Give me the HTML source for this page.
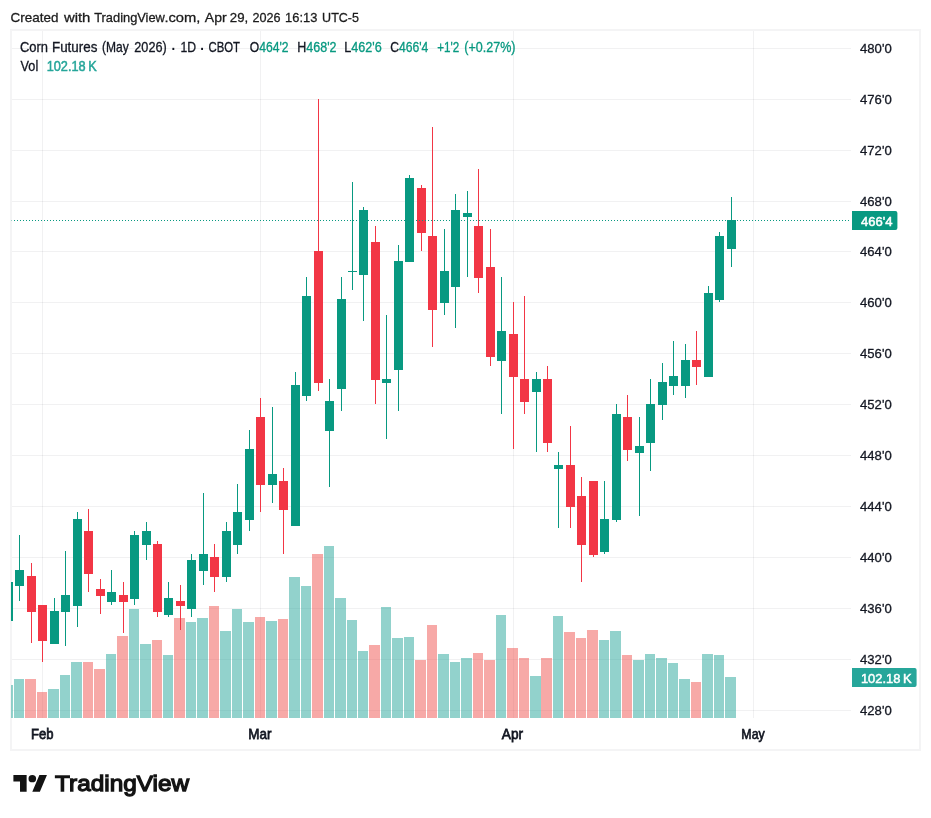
<!DOCTYPE html>
<html lang="en"><head><meta charset="utf-8"><title>Corn Futures (May 2026) chart</title>
<style>html,body{margin:0;padding:0;background:#fff}body{width:931px;height:818px;overflow:hidden;position:relative}svg{position:absolute;left:0;top:0;display:block}text{font-family:"Liberation Sans",sans-serif;white-space:pre}</style></head><body>
<svg width="931" height="818" viewBox="0 0 931 818">
<rect x="11" y="30" width="909" height="720" fill="none" stroke="#f4f4f5" stroke-width="2"/>
<g shape-rendering="crispEdges">
<g fill="rgba(42,46,57,0.065)">
<rect x="42" y="31" width="1" height="687"/>
<rect x="260" y="31" width="1" height="687"/>
<rect x="513" y="31" width="1" height="687"/>
<rect x="753" y="31" width="1" height="687"/>
<rect x="12" y="48" width="839" height="1"/>
<rect x="12" y="99" width="839" height="1"/>
<rect x="12" y="150" width="839" height="1"/>
<rect x="12" y="201" width="839" height="1"/>
<rect x="12" y="251" width="839" height="1"/>
<rect x="12" y="302" width="839" height="1"/>
<rect x="12" y="353" width="839" height="1"/>
<rect x="12" y="404" width="839" height="1"/>
<rect x="12" y="455" width="839" height="1"/>
<rect x="12" y="506" width="839" height="1"/>
<rect x="12" y="557" width="839" height="1"/>
<rect x="12" y="608" width="839" height="1"/>
<rect x="12" y="659" width="839" height="1"/>
<rect x="12" y="710" width="839" height="1"/>
</g>
<clipPath id="pane"><rect x="11" y="31" width="840" height="687"/></clipPath>
<g clip-path="url(#pane)">
<rect x="2" y="685" width="11" height="33" fill="rgba(38,166,154,0.5)"/>
<rect x="14" y="679" width="10" height="39" fill="rgba(38,166,154,0.5)"/>
<rect x="25" y="679" width="11" height="39" fill="rgba(239,83,80,0.5)"/>
<rect x="37" y="692" width="10" height="26" fill="rgba(239,83,80,0.5)"/>
<rect x="48" y="689" width="11" height="29" fill="rgba(38,166,154,0.5)"/>
<rect x="60" y="675" width="10" height="43" fill="rgba(38,166,154,0.5)"/>
<rect x="71" y="662" width="11" height="56" fill="rgba(38,166,154,0.5)"/>
<rect x="83" y="662" width="10" height="56" fill="rgba(239,83,80,0.5)"/>
<rect x="94" y="669" width="11" height="49" fill="rgba(239,83,80,0.5)"/>
<rect x="106" y="654" width="10" height="64" fill="rgba(38,166,154,0.5)"/>
<rect x="117" y="636" width="11" height="82" fill="rgba(239,83,80,0.5)"/>
<rect x="129" y="609" width="10" height="109" fill="rgba(38,166,154,0.5)"/>
<rect x="140" y="644" width="11" height="74" fill="rgba(38,166,154,0.5)"/>
<rect x="152" y="640" width="10" height="78" fill="rgba(239,83,80,0.5)"/>
<rect x="163" y="655" width="10" height="63" fill="rgba(38,166,154,0.5)"/>
<rect x="174" y="618" width="11" height="100" fill="rgba(239,83,80,0.5)"/>
<rect x="186" y="622" width="10" height="96" fill="rgba(38,166,154,0.5)"/>
<rect x="197" y="618" width="11" height="100" fill="rgba(38,166,154,0.5)"/>
<rect x="209" y="606" width="10" height="112" fill="rgba(239,83,80,0.5)"/>
<rect x="220" y="631" width="11" height="87" fill="rgba(38,166,154,0.5)"/>
<rect x="232" y="609" width="10" height="109" fill="rgba(38,166,154,0.5)"/>
<rect x="243" y="622" width="11" height="96" fill="rgba(38,166,154,0.5)"/>
<rect x="255" y="617" width="10" height="101" fill="rgba(239,83,80,0.5)"/>
<rect x="266" y="621" width="11" height="97" fill="rgba(38,166,154,0.5)"/>
<rect x="278" y="619" width="10" height="99" fill="rgba(239,83,80,0.5)"/>
<rect x="289" y="577" width="11" height="141" fill="rgba(38,166,154,0.5)"/>
<rect x="301" y="586" width="10" height="132" fill="rgba(38,166,154,0.5)"/>
<rect x="312" y="554" width="11" height="164" fill="rgba(239,83,80,0.5)"/>
<rect x="324" y="546" width="10" height="172" fill="rgba(38,166,154,0.5)"/>
<rect x="335" y="598" width="11" height="120" fill="rgba(38,166,154,0.5)"/>
<rect x="347" y="620" width="10" height="98" fill="rgba(38,166,154,0.5)"/>
<rect x="358" y="651" width="10" height="67" fill="rgba(38,166,154,0.5)"/>
<rect x="369" y="645" width="11" height="73" fill="rgba(239,83,80,0.5)"/>
<rect x="381" y="607" width="10" height="111" fill="rgba(38,166,154,0.5)"/>
<rect x="392" y="638" width="11" height="80" fill="rgba(38,166,154,0.5)"/>
<rect x="404" y="637" width="10" height="81" fill="rgba(38,166,154,0.5)"/>
<rect x="415" y="660" width="11" height="58" fill="rgba(239,83,80,0.5)"/>
<rect x="427" y="625" width="10" height="93" fill="rgba(239,83,80,0.5)"/>
<rect x="438" y="654" width="11" height="64" fill="rgba(38,166,154,0.5)"/>
<rect x="450" y="662" width="10" height="56" fill="rgba(38,166,154,0.5)"/>
<rect x="461" y="658" width="11" height="60" fill="rgba(38,166,154,0.5)"/>
<rect x="473" y="653" width="10" height="65" fill="rgba(239,83,80,0.5)"/>
<rect x="484" y="660" width="11" height="58" fill="rgba(239,83,80,0.5)"/>
<rect x="496" y="615" width="10" height="103" fill="rgba(38,166,154,0.5)"/>
<rect x="507" y="648" width="11" height="70" fill="rgba(239,83,80,0.5)"/>
<rect x="519" y="658" width="10" height="60" fill="rgba(239,83,80,0.5)"/>
<rect x="530" y="676" width="11" height="42" fill="rgba(38,166,154,0.5)"/>
<rect x="541" y="658" width="11" height="60" fill="rgba(239,83,80,0.5)"/>
<rect x="553" y="616" width="10" height="102" fill="rgba(38,166,154,0.5)"/>
<rect x="564" y="632" width="11" height="86" fill="rgba(239,83,80,0.5)"/>
<rect x="576" y="638" width="10" height="80" fill="rgba(239,83,80,0.5)"/>
<rect x="587" y="630" width="11" height="88" fill="rgba(239,83,80,0.5)"/>
<rect x="599" y="640" width="10" height="78" fill="rgba(38,166,154,0.5)"/>
<rect x="610" y="631" width="11" height="87" fill="rgba(38,166,154,0.5)"/>
<rect x="622" y="655" width="10" height="63" fill="rgba(239,83,80,0.5)"/>
<rect x="633" y="660" width="11" height="58" fill="rgba(38,166,154,0.5)"/>
<rect x="645" y="654" width="10" height="64" fill="rgba(38,166,154,0.5)"/>
<rect x="656" y="658" width="11" height="60" fill="rgba(38,166,154,0.5)"/>
<rect x="668" y="663" width="10" height="55" fill="rgba(38,166,154,0.5)"/>
<rect x="679" y="679" width="11" height="39" fill="rgba(38,166,154,0.5)"/>
<rect x="691" y="682" width="10" height="36" fill="rgba(239,83,80,0.5)"/>
<rect x="702" y="654" width="11" height="64" fill="rgba(38,166,154,0.5)"/>
<rect x="714" y="655" width="10" height="63" fill="rgba(38,166,154,0.5)"/>
<rect x="725" y="677" width="11" height="41" fill="rgba(38,166,154,0.5)"/>
<rect x="8" y="582" width="1" height="39" fill="#089981"/>
<rect x="4" y="582" width="9" height="39" fill="#089981"/>
<rect x="19" y="535" width="1" height="66" fill="#089981"/>
<rect x="15" y="570" width="9" height="16" fill="#089981"/>
<rect x="31" y="563" width="1" height="80" fill="#f23645"/>
<rect x="27" y="576" width="9" height="36" fill="#f23645"/>
<rect x="42" y="605" width="1" height="57" fill="#f23645"/>
<rect x="38" y="605" width="9" height="36" fill="#f23645"/>
<rect x="54" y="598" width="1" height="46" fill="#089981"/>
<rect x="50" y="611" width="9" height="33" fill="#089981"/>
<rect x="65" y="551" width="1" height="95" fill="#089981"/>
<rect x="61" y="595" width="9" height="17" fill="#089981"/>
<rect x="77" y="512" width="1" height="115" fill="#089981"/>
<rect x="73" y="519" width="9" height="87" fill="#089981"/>
<rect x="88" y="509" width="1" height="83" fill="#f23645"/>
<rect x="84" y="531" width="9" height="43" fill="#f23645"/>
<rect x="100" y="579" width="1" height="35" fill="#f23645"/>
<rect x="96" y="589" width="9" height="7" fill="#f23645"/>
<rect x="111" y="570" width="1" height="35" fill="#089981"/>
<rect x="107" y="592" width="9" height="10" fill="#089981"/>
<rect x="123" y="582" width="1" height="51" fill="#f23645"/>
<rect x="119" y="595" width="9" height="7" fill="#f23645"/>
<rect x="134" y="531" width="1" height="74" fill="#089981"/>
<rect x="130" y="535" width="9" height="64" fill="#089981"/>
<rect x="146" y="522" width="1" height="38" fill="#089981"/>
<rect x="142" y="531" width="9" height="14" fill="#089981"/>
<rect x="157" y="541" width="1" height="76" fill="#f23645"/>
<rect x="153" y="544" width="9" height="68" fill="#f23645"/>
<rect x="168" y="582" width="1" height="35" fill="#089981"/>
<rect x="164" y="598" width="9" height="17" fill="#089981"/>
<rect x="180" y="585" width="1" height="45" fill="#f23645"/>
<rect x="176" y="601" width="9" height="5" fill="#f23645"/>
<rect x="191" y="554" width="1" height="63" fill="#089981"/>
<rect x="187" y="560" width="9" height="49" fill="#089981"/>
<rect x="203" y="493" width="1" height="92" fill="#089981"/>
<rect x="199" y="554" width="9" height="17" fill="#089981"/>
<rect x="214" y="544" width="1" height="48" fill="#f23645"/>
<rect x="210" y="557" width="9" height="20" fill="#f23645"/>
<rect x="226" y="522" width="1" height="60" fill="#089981"/>
<rect x="222" y="531" width="9" height="46" fill="#089981"/>
<rect x="237" y="484" width="1" height="70" fill="#089981"/>
<rect x="233" y="512" width="9" height="33" fill="#089981"/>
<rect x="249" y="430" width="1" height="101" fill="#089981"/>
<rect x="245" y="449" width="9" height="71" fill="#089981"/>
<rect x="260" y="398" width="1" height="114" fill="#f23645"/>
<rect x="256" y="417" width="9" height="68" fill="#f23645"/>
<rect x="272" y="407" width="1" height="96" fill="#089981"/>
<rect x="268" y="474" width="9" height="11" fill="#089981"/>
<rect x="283" y="468" width="1" height="86" fill="#f23645"/>
<rect x="279" y="481" width="9" height="29" fill="#f23645"/>
<rect x="295" y="372" width="1" height="154" fill="#089981"/>
<rect x="291" y="385" width="9" height="141" fill="#089981"/>
<rect x="306" y="277" width="1" height="124" fill="#089981"/>
<rect x="302" y="296" width="9" height="100" fill="#089981"/>
<rect x="318" y="99" width="1" height="292" fill="#f23645"/>
<rect x="314" y="251" width="9" height="132" fill="#f23645"/>
<rect x="329" y="379" width="1" height="108" fill="#089981"/>
<rect x="325" y="401" width="9" height="30" fill="#089981"/>
<rect x="341" y="277" width="1" height="134" fill="#089981"/>
<rect x="337" y="299" width="9" height="90" fill="#089981"/>
<rect x="352" y="182" width="1" height="108" fill="#089981"/>
<rect x="348" y="271" width="9" height="1" fill="#089981"/>
<rect x="363" y="207" width="1" height="114" fill="#089981"/>
<rect x="359" y="210" width="9" height="65" fill="#089981"/>
<rect x="375" y="226" width="1" height="178" fill="#f23645"/>
<rect x="371" y="242" width="9" height="138" fill="#f23645"/>
<rect x="386" y="315" width="1" height="124" fill="#089981"/>
<rect x="382" y="379" width="9" height="4" fill="#089981"/>
<rect x="398" y="245" width="1" height="166" fill="#089981"/>
<rect x="394" y="261" width="9" height="109" fill="#089981"/>
<rect x="409" y="175" width="1" height="87" fill="#089981"/>
<rect x="405" y="178" width="9" height="84" fill="#089981"/>
<rect x="421" y="185" width="1" height="66" fill="#f23645"/>
<rect x="417" y="188" width="9" height="45" fill="#f23645"/>
<rect x="432" y="127" width="1" height="220" fill="#f23645"/>
<rect x="428" y="236" width="9" height="74" fill="#f23645"/>
<rect x="444" y="229" width="1" height="86" fill="#089981"/>
<rect x="440" y="271" width="9" height="32" fill="#089981"/>
<rect x="455" y="194" width="1" height="134" fill="#089981"/>
<rect x="451" y="210" width="9" height="77" fill="#089981"/>
<rect x="467" y="191" width="1" height="86" fill="#089981"/>
<rect x="463" y="213" width="9" height="4" fill="#089981"/>
<rect x="478" y="169" width="1" height="124" fill="#f23645"/>
<rect x="474" y="226" width="9" height="52" fill="#f23645"/>
<rect x="490" y="229" width="1" height="137" fill="#f23645"/>
<rect x="486" y="267" width="9" height="90" fill="#f23645"/>
<rect x="501" y="277" width="1" height="137" fill="#089981"/>
<rect x="497" y="331" width="9" height="30" fill="#089981"/>
<rect x="513" y="302" width="1" height="147" fill="#f23645"/>
<rect x="509" y="334" width="9" height="43" fill="#f23645"/>
<rect x="524" y="296" width="1" height="118" fill="#f23645"/>
<rect x="520" y="379" width="9" height="23" fill="#f23645"/>
<rect x="536" y="372" width="1" height="80" fill="#089981"/>
<rect x="532" y="379" width="9" height="13" fill="#089981"/>
<rect x="547" y="366" width="1" height="86" fill="#f23645"/>
<rect x="543" y="379" width="9" height="64" fill="#f23645"/>
<rect x="558" y="452" width="1" height="76" fill="#089981"/>
<rect x="554" y="465" width="9" height="4" fill="#089981"/>
<rect x="570" y="426" width="1" height="102" fill="#f23645"/>
<rect x="566" y="465" width="9" height="42" fill="#f23645"/>
<rect x="581" y="477" width="1" height="105" fill="#f23645"/>
<rect x="577" y="496" width="9" height="49" fill="#f23645"/>
<rect x="593" y="481" width="1" height="76" fill="#f23645"/>
<rect x="589" y="481" width="9" height="74" fill="#f23645"/>
<rect x="604" y="481" width="1" height="73" fill="#089981"/>
<rect x="600" y="519" width="9" height="33" fill="#089981"/>
<rect x="616" y="404" width="1" height="118" fill="#089981"/>
<rect x="612" y="414" width="9" height="106" fill="#089981"/>
<rect x="627" y="395" width="1" height="66" fill="#f23645"/>
<rect x="623" y="417" width="9" height="33" fill="#f23645"/>
<rect x="639" y="417" width="1" height="99" fill="#089981"/>
<rect x="635" y="446" width="9" height="7" fill="#089981"/>
<rect x="650" y="379" width="1" height="92" fill="#089981"/>
<rect x="646" y="404" width="9" height="39" fill="#089981"/>
<rect x="662" y="363" width="1" height="57" fill="#089981"/>
<rect x="658" y="382" width="9" height="23" fill="#089981"/>
<rect x="673" y="341" width="1" height="54" fill="#089981"/>
<rect x="669" y="376" width="9" height="10" fill="#089981"/>
<rect x="685" y="344" width="1" height="54" fill="#089981"/>
<rect x="681" y="360" width="9" height="26" fill="#089981"/>
<rect x="696" y="331" width="1" height="54" fill="#f23645"/>
<rect x="692" y="360" width="9" height="7" fill="#f23645"/>
<rect x="708" y="286" width="1" height="91" fill="#089981"/>
<rect x="704" y="293" width="9" height="84" fill="#089981"/>
<rect x="719" y="232" width="1" height="70" fill="#089981"/>
<rect x="715" y="236" width="9" height="64" fill="#089981"/>
<rect x="731" y="197" width="1" height="70" fill="#089981"/>
<rect x="727" y="220" width="9" height="29" fill="#089981"/>
</g>
<g fill="#089981">
<rect x="11" y="220" width="1" height="1" opacity="0.4"/><rect x="14" y="220" width="1" height="1"/><rect x="17" y="220" width="1" height="1"/><rect x="20" y="220" width="1" height="1"/><rect x="23" y="220" width="1" height="1"/><rect x="26" y="220" width="1" height="1"/><rect x="29" y="220" width="1" height="1"/><rect x="32" y="220" width="1" height="1"/><rect x="35" y="220" width="1" height="1"/><rect x="38" y="220" width="1" height="1"/><rect x="41" y="220" width="1" height="1"/><rect x="44" y="220" width="1" height="1"/><rect x="47" y="220" width="1" height="1"/><rect x="50" y="220" width="1" height="1"/><rect x="53" y="220" width="1" height="1"/><rect x="56" y="220" width="1" height="1"/><rect x="59" y="220" width="1" height="1"/><rect x="62" y="220" width="1" height="1"/><rect x="65" y="220" width="1" height="1"/><rect x="68" y="220" width="1" height="1"/><rect x="71" y="220" width="1" height="1"/><rect x="74" y="220" width="1" height="1"/><rect x="77" y="220" width="1" height="1"/><rect x="80" y="220" width="1" height="1"/><rect x="83" y="220" width="1" height="1"/><rect x="86" y="220" width="1" height="1"/><rect x="89" y="220" width="1" height="1"/><rect x="92" y="220" width="1" height="1"/><rect x="95" y="220" width="1" height="1"/><rect x="98" y="220" width="1" height="1"/><rect x="101" y="220" width="1" height="1"/><rect x="104" y="220" width="1" height="1"/><rect x="107" y="220" width="1" height="1"/><rect x="110" y="220" width="1" height="1"/><rect x="113" y="220" width="1" height="1"/><rect x="116" y="220" width="1" height="1"/><rect x="119" y="220" width="1" height="1"/><rect x="122" y="220" width="1" height="1"/><rect x="125" y="220" width="1" height="1"/><rect x="128" y="220" width="1" height="1"/><rect x="131" y="220" width="1" height="1"/><rect x="134" y="220" width="1" height="1"/><rect x="137" y="220" width="1" height="1"/><rect x="140" y="220" width="1" height="1"/><rect x="143" y="220" width="1" height="1"/><rect x="146" y="220" width="1" height="1"/><rect x="149" y="220" width="1" height="1"/><rect x="152" y="220" width="1" height="1"/><rect x="155" y="220" width="1" height="1"/><rect x="158" y="220" width="1" height="1"/><rect x="161" y="220" width="1" height="1"/><rect x="164" y="220" width="1" height="1"/><rect x="167" y="220" width="1" height="1"/><rect x="170" y="220" width="1" height="1"/><rect x="173" y="220" width="1" height="1"/><rect x="176" y="220" width="1" height="1"/><rect x="179" y="220" width="1" height="1"/><rect x="182" y="220" width="1" height="1"/><rect x="185" y="220" width="1" height="1"/><rect x="188" y="220" width="1" height="1"/><rect x="191" y="220" width="1" height="1"/><rect x="194" y="220" width="1" height="1"/><rect x="197" y="220" width="1" height="1"/><rect x="200" y="220" width="1" height="1"/><rect x="203" y="220" width="1" height="1"/><rect x="206" y="220" width="1" height="1"/><rect x="209" y="220" width="1" height="1"/><rect x="212" y="220" width="1" height="1"/><rect x="215" y="220" width="1" height="1"/><rect x="218" y="220" width="1" height="1"/><rect x="221" y="220" width="1" height="1"/><rect x="224" y="220" width="1" height="1"/><rect x="227" y="220" width="1" height="1"/><rect x="230" y="220" width="1" height="1"/><rect x="233" y="220" width="1" height="1"/><rect x="236" y="220" width="1" height="1"/><rect x="239" y="220" width="1" height="1"/><rect x="242" y="220" width="1" height="1"/><rect x="245" y="220" width="1" height="1"/><rect x="248" y="220" width="1" height="1"/><rect x="251" y="220" width="1" height="1"/><rect x="254" y="220" width="1" height="1"/><rect x="257" y="220" width="1" height="1"/><rect x="260" y="220" width="1" height="1"/><rect x="263" y="220" width="1" height="1"/><rect x="266" y="220" width="1" height="1"/><rect x="269" y="220" width="1" height="1"/><rect x="272" y="220" width="1" height="1"/><rect x="275" y="220" width="1" height="1"/><rect x="278" y="220" width="1" height="1"/><rect x="281" y="220" width="1" height="1"/><rect x="284" y="220" width="1" height="1"/><rect x="287" y="220" width="1" height="1"/><rect x="290" y="220" width="1" height="1"/><rect x="293" y="220" width="1" height="1"/><rect x="296" y="220" width="1" height="1"/><rect x="299" y="220" width="1" height="1"/><rect x="302" y="220" width="1" height="1"/><rect x="305" y="220" width="1" height="1"/><rect x="308" y="220" width="1" height="1"/><rect x="311" y="220" width="1" height="1"/><rect x="314" y="220" width="1" height="1"/><rect x="317" y="220" width="1" height="1"/><rect x="320" y="220" width="1" height="1"/><rect x="323" y="220" width="1" height="1"/><rect x="326" y="220" width="1" height="1"/><rect x="329" y="220" width="1" height="1"/><rect x="332" y="220" width="1" height="1"/><rect x="335" y="220" width="1" height="1"/><rect x="338" y="220" width="1" height="1"/><rect x="341" y="220" width="1" height="1"/><rect x="344" y="220" width="1" height="1"/><rect x="347" y="220" width="1" height="1"/><rect x="350" y="220" width="1" height="1"/><rect x="353" y="220" width="1" height="1"/><rect x="356" y="220" width="1" height="1"/><rect x="359" y="220" width="1" height="1"/><rect x="362" y="220" width="1" height="1"/><rect x="365" y="220" width="1" height="1"/><rect x="368" y="220" width="1" height="1"/><rect x="371" y="220" width="1" height="1"/><rect x="374" y="220" width="1" height="1"/><rect x="377" y="220" width="1" height="1"/><rect x="380" y="220" width="1" height="1"/><rect x="383" y="220" width="1" height="1"/><rect x="386" y="220" width="1" height="1"/><rect x="389" y="220" width="1" height="1"/><rect x="392" y="220" width="1" height="1"/><rect x="395" y="220" width="1" height="1"/><rect x="398" y="220" width="1" height="1"/><rect x="401" y="220" width="1" height="1"/><rect x="404" y="220" width="1" height="1"/><rect x="407" y="220" width="1" height="1"/><rect x="410" y="220" width="1" height="1"/><rect x="413" y="220" width="1" height="1"/><rect x="416" y="220" width="1" height="1"/><rect x="419" y="220" width="1" height="1"/><rect x="422" y="220" width="1" height="1"/><rect x="425" y="220" width="1" height="1"/><rect x="428" y="220" width="1" height="1"/><rect x="431" y="220" width="1" height="1"/><rect x="434" y="220" width="1" height="1"/><rect x="437" y="220" width="1" height="1"/><rect x="440" y="220" width="1" height="1"/><rect x="443" y="220" width="1" height="1"/><rect x="446" y="220" width="1" height="1"/><rect x="449" y="220" width="1" height="1"/><rect x="452" y="220" width="1" height="1"/><rect x="455" y="220" width="1" height="1"/><rect x="458" y="220" width="1" height="1"/><rect x="461" y="220" width="1" height="1"/><rect x="464" y="220" width="1" height="1"/><rect x="467" y="220" width="1" height="1"/><rect x="470" y="220" width="1" height="1"/><rect x="473" y="220" width="1" height="1"/><rect x="476" y="220" width="1" height="1"/><rect x="479" y="220" width="1" height="1"/><rect x="482" y="220" width="1" height="1"/><rect x="485" y="220" width="1" height="1"/><rect x="488" y="220" width="1" height="1"/><rect x="491" y="220" width="1" height="1"/><rect x="494" y="220" width="1" height="1"/><rect x="497" y="220" width="1" height="1"/><rect x="500" y="220" width="1" height="1"/><rect x="503" y="220" width="1" height="1"/><rect x="506" y="220" width="1" height="1"/><rect x="509" y="220" width="1" height="1"/><rect x="512" y="220" width="1" height="1"/><rect x="515" y="220" width="1" height="1"/><rect x="518" y="220" width="1" height="1"/><rect x="521" y="220" width="1" height="1"/><rect x="524" y="220" width="1" height="1"/><rect x="527" y="220" width="1" height="1"/><rect x="530" y="220" width="1" height="1"/><rect x="533" y="220" width="1" height="1"/><rect x="536" y="220" width="1" height="1"/><rect x="539" y="220" width="1" height="1"/><rect x="542" y="220" width="1" height="1"/><rect x="545" y="220" width="1" height="1"/><rect x="548" y="220" width="1" height="1"/><rect x="551" y="220" width="1" height="1"/><rect x="554" y="220" width="1" height="1"/><rect x="557" y="220" width="1" height="1"/><rect x="560" y="220" width="1" height="1"/><rect x="563" y="220" width="1" height="1"/><rect x="566" y="220" width="1" height="1"/><rect x="569" y="220" width="1" height="1"/><rect x="572" y="220" width="1" height="1"/><rect x="575" y="220" width="1" height="1"/><rect x="578" y="220" width="1" height="1"/><rect x="581" y="220" width="1" height="1"/><rect x="584" y="220" width="1" height="1"/><rect x="587" y="220" width="1" height="1"/><rect x="590" y="220" width="1" height="1"/><rect x="593" y="220" width="1" height="1"/><rect x="596" y="220" width="1" height="1"/><rect x="599" y="220" width="1" height="1"/><rect x="602" y="220" width="1" height="1"/><rect x="605" y="220" width="1" height="1"/><rect x="608" y="220" width="1" height="1"/><rect x="611" y="220" width="1" height="1"/><rect x="614" y="220" width="1" height="1"/><rect x="617" y="220" width="1" height="1"/><rect x="620" y="220" width="1" height="1"/><rect x="623" y="220" width="1" height="1"/><rect x="626" y="220" width="1" height="1"/><rect x="629" y="220" width="1" height="1"/><rect x="632" y="220" width="1" height="1"/><rect x="635" y="220" width="1" height="1"/><rect x="638" y="220" width="1" height="1"/><rect x="641" y="220" width="1" height="1"/><rect x="644" y="220" width="1" height="1"/><rect x="647" y="220" width="1" height="1"/><rect x="650" y="220" width="1" height="1"/><rect x="653" y="220" width="1" height="1"/><rect x="656" y="220" width="1" height="1"/><rect x="659" y="220" width="1" height="1"/><rect x="662" y="220" width="1" height="1"/><rect x="665" y="220" width="1" height="1"/><rect x="668" y="220" width="1" height="1"/><rect x="671" y="220" width="1" height="1"/><rect x="674" y="220" width="1" height="1"/><rect x="677" y="220" width="1" height="1"/><rect x="680" y="220" width="1" height="1"/><rect x="683" y="220" width="1" height="1"/><rect x="686" y="220" width="1" height="1"/><rect x="689" y="220" width="1" height="1"/><rect x="692" y="220" width="1" height="1"/><rect x="695" y="220" width="1" height="1"/><rect x="698" y="220" width="1" height="1"/><rect x="701" y="220" width="1" height="1"/><rect x="704" y="220" width="1" height="1"/><rect x="707" y="220" width="1" height="1"/><rect x="710" y="220" width="1" height="1"/><rect x="713" y="220" width="1" height="1"/><rect x="716" y="220" width="1" height="1"/><rect x="719" y="220" width="1" height="1"/><rect x="722" y="220" width="1" height="1"/><rect x="725" y="220" width="1" height="1"/><rect x="728" y="220" width="1" height="1"/><rect x="731" y="220" width="1" height="1"/><rect x="734" y="220" width="1" height="1"/><rect x="737" y="220" width="1" height="1"/><rect x="740" y="220" width="1" height="1"/><rect x="743" y="220" width="1" height="1"/><rect x="746" y="220" width="1" height="1"/><rect x="749" y="220" width="1" height="1"/><rect x="752" y="220" width="1" height="1"/><rect x="755" y="220" width="1" height="1"/><rect x="758" y="220" width="1" height="1"/><rect x="761" y="220" width="1" height="1"/><rect x="764" y="220" width="1" height="1"/><rect x="767" y="220" width="1" height="1"/><rect x="770" y="220" width="1" height="1"/><rect x="773" y="220" width="1" height="1"/><rect x="776" y="220" width="1" height="1"/><rect x="779" y="220" width="1" height="1"/><rect x="782" y="220" width="1" height="1"/><rect x="785" y="220" width="1" height="1"/><rect x="788" y="220" width="1" height="1"/><rect x="791" y="220" width="1" height="1"/><rect x="794" y="220" width="1" height="1"/><rect x="797" y="220" width="1" height="1"/><rect x="800" y="220" width="1" height="1"/><rect x="803" y="220" width="1" height="1"/><rect x="806" y="220" width="1" height="1"/><rect x="809" y="220" width="1" height="1"/><rect x="812" y="220" width="1" height="1"/><rect x="815" y="220" width="1" height="1"/><rect x="818" y="220" width="1" height="1"/><rect x="821" y="220" width="1" height="1"/><rect x="824" y="220" width="1" height="1"/><rect x="827" y="220" width="1" height="1"/><rect x="830" y="220" width="1" height="1"/><rect x="833" y="220" width="1" height="1"/><rect x="836" y="220" width="1" height="1"/><rect x="839" y="220" width="1" height="1"/><rect x="842" y="220" width="1" height="1"/><rect x="845" y="220" width="1" height="1"/><rect x="848" y="220" width="1" height="1"/>
</g>
</g>
<path d="M852 211h43.4a2 2 0 0 1 2 2v15a2 2 0 0 1-2 2H852z" fill="#089981"/>
<path d="M852 668h62.6a2 2 0 0 1 2 2v15a2 2 0 0 1-2 2H852z" fill="#26a69a"/>
<g transform="translate(13.4,771.2) scale(0.945,0.93)" fill="#131313"><path d="M14 22H7V11H0V4h14v18zM28 22h-8l7.5-18h8L28 22z"/><circle cx="20" cy="8" r="4"/></g>
<text x="173.3" y="53.6" font-size="20" fill="#131722" text-anchor="middle">·</text>
<text x="202.2" y="53.6" font-size="20" fill="#131722" text-anchor="middle">·</text>
<text transform="translate(10.55,21.90) scale(0.9882,1.0000)" font-size="13.62" fill="#1c1c1c" stroke="#1c1c1c" stroke-width="0.30">Created</text>
<text transform="translate(63.90,21.90) scale(1.0936,1.0000)" font-size="13.62" fill="#1c1c1c" stroke="#1c1c1c" stroke-width="0.30">with</text>
<text transform="translate(94.20,21.90) scale(0.9440,1.0000)" font-size="13.62" fill="#1c1c1c" stroke="#1c1c1c" stroke-width="0.30">TradingView</text>
<text transform="translate(164.40,21.90) scale(1.0820,1.0000)" font-size="13.62" fill="#1c1c1c" stroke="#1c1c1c" stroke-width="0.30">.com,</text>
<text transform="translate(204.80,21.90) scale(1.0298,1.0000)" font-size="13.62" fill="#1c1c1c" stroke="#1c1c1c" stroke-width="0.30">Apr</text>
<text transform="translate(229.85,21.90) scale(0.9733,1.0000)" font-size="13.62" fill="#1c1c1c" stroke="#1c1c1c" stroke-width="0.30">29,</text>
<text transform="translate(252.50,21.90) scale(0.9278,1.0000)" font-size="13.62" fill="#1c1c1c" stroke="#1c1c1c" stroke-width="0.30">2026</text>
<text transform="translate(285.10,21.90) scale(0.9455,1.0000)" font-size="13.62" fill="#1c1c1c" stroke="#1c1c1c" stroke-width="0.30">16:13</text>
<text transform="translate(322.10,21.90) scale(0.9203,1.0000)" font-size="13.62" fill="#1c1c1c" stroke="#1c1c1c" stroke-width="0.30">UTC-5</text>
<text transform="translate(19.95,51.80) scale(0.9396,1.0000)" font-size="13.77" fill="#131722" stroke="#131722" stroke-width="0.30">Corn</text>
<text transform="translate(51.95,51.80) scale(0.9732,1.0000)" font-size="13.77" fill="#131722" stroke="#131722" stroke-width="0.30">Futures</text>
<text transform="translate(102.05,51.80) scale(0.8740,1.0000)" font-size="13.77" fill="#131722" stroke="#131722" stroke-width="0.30">(May</text>
<text transform="translate(134.30,51.80) scale(0.9208,1.0000)" font-size="13.77" fill="#131722" stroke="#131722" stroke-width="0.30">2026)</text>
<text transform="translate(180.40,51.80) scale(0.8887,1.0000)" font-size="13.77" fill="#131722" stroke="#131722" stroke-width="0.30">1D</text>
<text transform="translate(208.45,51.80) scale(0.8238,1.0000)" font-size="13.77" fill="#131722" stroke="#131722" stroke-width="0.30">CBOT</text>
<text transform="translate(249.75,51.80) scale(0.8825,1.0000)" font-size="13.77" fill="#131722" stroke="#131722" stroke-width="0.30">O<tspan fill="#089981" stroke="#089981">464'2</tspan></text>
<text transform="translate(297.25,51.80) scale(0.9082,1.0000)" font-size="13.77" fill="#131722" stroke="#131722" stroke-width="0.30">H<tspan fill="#089981" stroke="#089981">468'2</tspan></text>
<text transform="translate(344.25,51.80) scale(0.9173,1.0000)" font-size="13.77" fill="#131722" stroke="#131722" stroke-width="0.30">L<tspan fill="#089981" stroke="#089981">462'6</tspan></text>
<text transform="translate(390.15,51.80) scale(0.8832,1.0000)" font-size="13.77" fill="#131722" stroke="#131722" stroke-width="0.30">C<tspan fill="#089981" stroke="#089981">466'4</tspan></text>
<text transform="translate(437.15,51.80) scale(0.8481,1.0000)" font-size="13.77" fill="#089981" stroke="#089981" stroke-width="0.30">+1'2</text>
<text transform="translate(464.35,51.80) scale(0.9109,1.0000)" font-size="13.77" fill="#089981" stroke="#089981" stroke-width="0.30">(+0.27%)</text>
<text transform="translate(20.60,70.80) scale(0.9208,1.0000)" font-size="13.77" fill="#131722" stroke="#131722" stroke-width="0.30">Vol</text>
<text transform="translate(46.70,70.80) scale(0.9239,1.0000)" font-size="13.77" fill="#26a69a" stroke="#26a69a" stroke-width="0.50">102.18 K</text>
<text transform="translate(860.00,53.10) scale(0.9811,1.0000)" font-size="13.38" fill="#131722" stroke="#131722" stroke-width="0.30">480'0</text>
<text transform="translate(860.00,104.10) scale(0.9811,1.0000)" font-size="13.38" fill="#131722" stroke="#131722" stroke-width="0.30">476'0</text>
<text transform="translate(860.00,155.10) scale(0.9811,1.0000)" font-size="13.38" fill="#131722" stroke="#131722" stroke-width="0.30">472'0</text>
<text transform="translate(860.00,206.10) scale(0.9811,1.0000)" font-size="13.38" fill="#131722" stroke="#131722" stroke-width="0.30">468'0</text>
<text transform="translate(860.00,256.10) scale(0.9811,1.0000)" font-size="13.38" fill="#131722" stroke="#131722" stroke-width="0.30">464'0</text>
<text transform="translate(860.00,307.10) scale(0.9811,1.0000)" font-size="13.38" fill="#131722" stroke="#131722" stroke-width="0.30">460'0</text>
<text transform="translate(860.00,358.10) scale(0.9811,1.0000)" font-size="13.38" fill="#131722" stroke="#131722" stroke-width="0.30">456'0</text>
<text transform="translate(860.00,409.10) scale(0.9811,1.0000)" font-size="13.38" fill="#131722" stroke="#131722" stroke-width="0.30">452'0</text>
<text transform="translate(860.00,460.10) scale(0.9811,1.0000)" font-size="13.38" fill="#131722" stroke="#131722" stroke-width="0.30">448'0</text>
<text transform="translate(860.00,511.10) scale(0.9811,1.0000)" font-size="13.38" fill="#131722" stroke="#131722" stroke-width="0.30">444'0</text>
<text transform="translate(860.00,562.10) scale(0.9811,1.0000)" font-size="13.38" fill="#131722" stroke="#131722" stroke-width="0.30">440'0</text>
<text transform="translate(860.00,613.10) scale(0.9811,1.0000)" font-size="13.38" fill="#131722" stroke="#131722" stroke-width="0.30">436'0</text>
<text transform="translate(860.00,664.10) scale(0.9811,1.0000)" font-size="13.38" fill="#131722" stroke="#131722" stroke-width="0.30">432'0</text>
<text transform="translate(860.00,715.10) scale(0.9811,1.0000)" font-size="13.38" fill="#131722" stroke="#131722" stroke-width="0.30">428'0</text>
<text transform="translate(860.95,226.00) scale(0.9669,1.0000)" font-size="13.52" fill="#ffffff" stroke="#ffffff" stroke-width="0.50">466'4</text>
<text transform="translate(860.90,682.80) scale(0.9557,1.0000)" font-size="13.52" fill="#ffffff" stroke="#ffffff" stroke-width="0.50">102.18 K</text>
<text transform="translate(30.90,738.90) scale(0.8590,1.0000)" font-size="15.22" fill="#131722" stroke="#131722" stroke-width="0.75">Feb</text>
<text transform="translate(248.20,738.90) scale(0.8841,1.0000)" font-size="15.22" fill="#131722" stroke="#131722" stroke-width="0.75">Mar</text>
<text transform="translate(501.85,738.90) scale(0.9010,1.0000)" font-size="15.22" fill="#131722" stroke="#131722" stroke-width="0.75">Apr</text>
<text transform="translate(741.35,738.90) scale(0.8123,1.0000)" font-size="15.22" fill="#131722" stroke="#131722" stroke-width="0.75">May</text>
<text transform="translate(55.10,791.00) scale(1.0629,1.0000)" font-size="22.90" fill="#131313" stroke="#131313" stroke-width="1.30">TradingView</text>
</svg></body></html>
